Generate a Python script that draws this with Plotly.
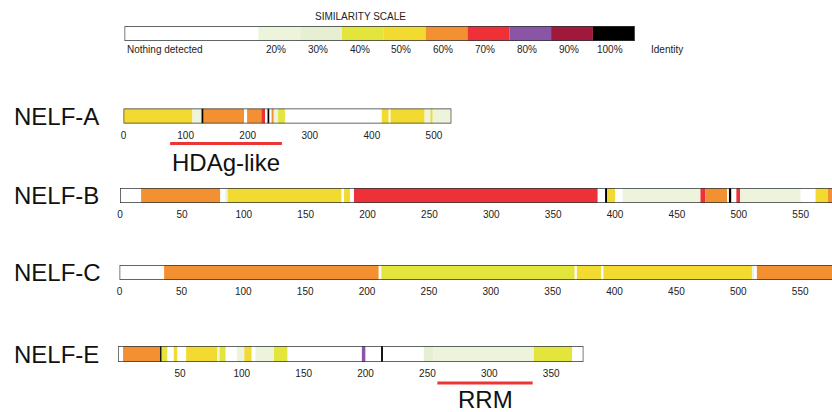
import plotly.graph_objects as go

# ---------------- data ----------------
scale_levels = ["0%", "20%", "30%", "40%", "50%", "60%", "70%", "80%", "90%", "100%"]
scale_texts = ["Nothing detected", "20%", "30%", "40%", "50%", "60%", "70%", "80%", "90%", "100%"]
level_colors = ["#ffffff", "#eef4dc", "#e6efd2", "#e3e43c", "#f2da30", "#f39132",
                "#ee3136", "#8a55a5", "#a0193a", "#000000"]

protein_names = ["NELF-A", "NELF-B", "NELF-C", "NELF-E"]
protein_lengths = [528, 580, 590, 376]

nelfa_start = [0, 111, 127, 129, 194, 199, 222, 228, 233, 235, 239, 242, 249, 260, 416, 428, 430, 485, 496, 498]
nelfa_end = [111, 127, 129, 194, 199, 222, 228, 233, 235, 239, 242, 249, 260, 416, 428, 430, 485, 496, 498, 528]
nelfa_level = ["50%", "20%", "100%", "60%", "0%", "60%", "70%", "0%", "100%", "0%", "60%", "20%", "40%",
               "0%", "50%", "0%", "50%", "20%", "50%", "20%"]

nelfb_start = [0, 17, 81, 85, 87, 179, 181, 186, 189, 386, 392, 393.5, 400, 406, 469, 473, 491, 492, 494, 498, 501, 550, 562, 572]
nelfb_end = [17, 81, 85, 87, 179, 181, 186, 189, 386, 392, 393.5, 400, 406, 469, 473, 491, 492, 494, 498, 501, 550, 562, 572, 580]
nelfb_level = ["0%", "60%", "0%", "20%", "50%", "0%", "50%", "0%", "70%", "0%", "100%", "50%", "0%", "20%",
               "70%", "60%", "0%", "100%", "0%", "70%", "20%", "0%", "50%", "60%"]

nelfc_start = [0, 36, 210, 211.5, 368, 369.5, 389, 391, 511, 513, 515]
nelfc_end = [36, 210, 211.5, 368, 369.5, 389, 391, 511, 513, 515, 590]
nelfc_level = ["0%", "60%", "0%", "40%", "0%", "50%", "0%", "50%", "20%", "0%", "60%"]

nelfe_start = [0, 4, 34, 35, 40, 45, 48, 55, 80, 82, 87, 96, 102, 108, 111, 126, 137, 197, 200, 213, 214, 247, 255, 336, 367]
nelfe_end = [4, 34, 35, 40, 45, 48, 55, 80, 82, 87, 96, 102, 108, 111, 126, 137, 197, 200, 213, 214, 247, 255, 336, 367, 376]
nelfe_level = ["0%", "60%", "100%", "40%", "0%", "50%", "0%", "50%", "20%", "40%", "0%", "20%", "50%", "0%",
               "20%", "40%", "0%", "80%", "0%", "100%", "0%", "30%", "20%", "40%", "0%"]

ticks_a = [0, 100, 200, 300, 400, 500]
ticks_b = [0, 50, 100, 150, 200, 250, 300, 350, 400, 450, 500, 550]
ticks_c = [0, 50, 100, 150, 200, 250, 300, 350, 400, 450, 500, 550]
ticks_e = [50, 100, 150, 200, 250, 300, 350]

domain_names = ["HDAg-like", "RRM"]
domain_protein = ["NELF-A", "NELF-E"]
domain_start = [75, 258]
domain_end = [255, 335]

# ---------------- layout helpers ----------------
W, H = 832, 412
FONT = "Liberation Sans, Arial, Helvetica, sans-serif"
color_of = dict(zip(scale_levels, level_colors))

def px(x):
    return x / W

def py(y):
    return 1 - y / H

# per-protein geometry (pixel position of residue 0, pixels per residue, bar top/bottom)
geom = {
    "NELF-A": dict(x0=121, k=0.623, top=108.5, bot=123.5),
    "NELF-B": dict(x0=117.5, k=1.242, top=188, bot=203),
    "NELF-C": dict(x0=117, k=1.242, top=265, bot=280),
    "NELF-E": dict(x0=115.5, k=1.242, top=346, bot=362),
}
segments = {
    "NELF-A": (nelfa_start, nelfa_end, nelfa_level, ticks_a),
    "NELF-B": (nelfb_start, nelfb_end, nelfb_level, ticks_b),
    "NELF-C": (nelfc_start, nelfc_end, nelfc_level, ticks_c),
    "NELF-E": (nelfe_start, nelfe_end, nelfe_level, ticks_e),
}

fig = go.Figure()
layout = dict(width=W, height=H, margin=dict(l=0, r=0, t=0, b=0),
              paper_bgcolor="white", plot_bgcolor="rgba(0,0,0,0)",
              barmode="overlay", showlegend=False, font=dict(family=FONT, color="#1a1a1a"))
annotations = []
shapes = []

for i, name in enumerate(protein_names):
    n = i + 1
    xa = "x" if n == 1 else f"x{n}"
    ya = "y" if n == 1 else f"y{n}"
    g = geom[name]
    starts, ends, levels, ticks = segments[name]
    length = protein_lengths[i]
    xmax = length if g["x0"] + g["k"] * length < W else (W - g["x0"]) / g["k"]
    x_right = g["x0"] + g["k"] * xmax
    fig.add_trace(go.Bar(
        orientation="h", y=[0] * len(starts), base=starts,
        x=[e - s for s, e in zip(starts, ends)], width=1,
        marker=dict(color=[color_of[l] for l in levels], line=dict(width=0)),
        xaxis=xa, yaxis=ya, hoverinfo="skip"))
    fig.add_trace(go.Bar(
        orientation="h", y=[0], base=[0], x=[length], width=1,
        marker=dict(color="rgba(0,0,0,0)", line=dict(color="#2e3438", width=1.3)),
        xaxis=xa, yaxis=ya, hoverinfo="skip"))
    xkey = "xaxis" if n == 1 else f"xaxis{n}"
    ykey = "yaxis" if n == 1 else f"yaxis{n}"
    layout[xkey] = dict(domain=[px(g["x0"]), min(1.0, px(x_right))], range=[0, xmax],
                        anchor=ya, showgrid=False, zeroline=False, showline=False,
                        tickvals=ticks, ticks="", tickfont=dict(size=10, color="#222"),
                        ticklabelstandoff=4, fixedrange=True)
    layout[ykey] = dict(domain=[py(g["bot"]), py(g["top"])], range=[-0.5, 0.5],
                        anchor=xa, visible=False, fixedrange=True)
    annotations.append(dict(text=name, x=px(9), y=py((g["top"] + g["bot"]) / 2),
                            xref="paper", yref="paper", xanchor="left", yanchor="middle",
                            showarrow=False, font=dict(size=24, color="#111")))

# domains (red bars + labels)
dom_geom = {"NELF-A": (143.5, 163), "NELF-E": (383, 399.5)}
for dname, prot, s, e in zip(domain_names, domain_protein, domain_start, domain_end):
    n = protein_names.index(prot) + 1
    xa = "x" if n == 1 else f"x{n}"
    ly, ty = dom_geom[prot]
    shapes.append(dict(type="line", xref=xa, yref="paper", x0=s, x1=e,
                       y0=py(ly), y1=py(ly), line=dict(color="#ec3535", width=3)))
    annotations.append(dict(text=dname, x=(s + e) / 2, y=py(ty), xref=xa, yref="paper",
                            xanchor="center", yanchor="middle", showarrow=False,
                            font=dict(size=24, color="#111")))

# similarity scale bar
scale_left, scale_right = 122, 634
scale_units = [3.2] + [1] * (len(scale_levels) - 1)
scale_base = [sum(scale_units[:j]) for j in range(len(scale_units))]
total_units = sum(scale_units)
unit_px = (scale_right - scale_left) / total_units
fig.add_trace(go.Bar(orientation="h", y=[0] * len(scale_levels), base=scale_base, x=scale_units,
                     width=1, marker=dict(color=level_colors, line=dict(width=0)),
                     xaxis="x5", yaxis="y5", hoverinfo="skip"))
fig.add_trace(go.Bar(orientation="h", y=[0], base=[0], x=[total_units], width=1,
                     marker=dict(color="rgba(0,0,0,0)", line=dict(color="#2e3438", width=1.3)),
                     xaxis="x5", yaxis="y5", hoverinfo="skip"))
layout["xaxis5"] = dict(domain=[px(scale_left), px(scale_right)], range=[0, total_units], anchor="y5",
                        visible=False, fixedrange=True)
layout["yaxis5"] = dict(domain=[py(41), py(26)], range=[-0.5, 0.5], anchor="x5",
                        visible=False, fixedrange=True)
annotations.append(dict(text="SIMILARITY SCALE", x=px(359), y=py(17), xref="paper", yref="paper",
                        xanchor="center", yanchor="middle", showarrow=False,
                        font=dict(size=10, color="#222")))
for j, t in enumerate(scale_texts):
    if j == 0:
        annotations.append(dict(text=t, x=0, y=py(49), xref="x5", yref="paper", xanchor="left",
                                yanchor="middle", showarrow=False, font=dict(size=10, color="#222")))
    else:
        annotations.append(dict(text=t, x=scale_base[j] + scale_units[j] * 0.42, y=py(49),
                                xref="x5", yref="paper", xanchor="center", yanchor="middle",
                                showarrow=False, font=dict(size=10, color="#222")))
annotations.append(dict(text="Identity", x=px(scale_right + 0.77 * unit_px), y=py(49),
                        xref="paper", yref="paper", xanchor="center", yanchor="middle",
                        showarrow=False, font=dict(size=10, color="#222")))

layout["annotations"] = annotations
layout["shapes"] = shapes
fig.update_layout(**layout)
fig.write_html("out.html", config={"displayModeBar": False},
               post_script="document.body.style.margin='0';document.body.style.overflow='hidden';")
